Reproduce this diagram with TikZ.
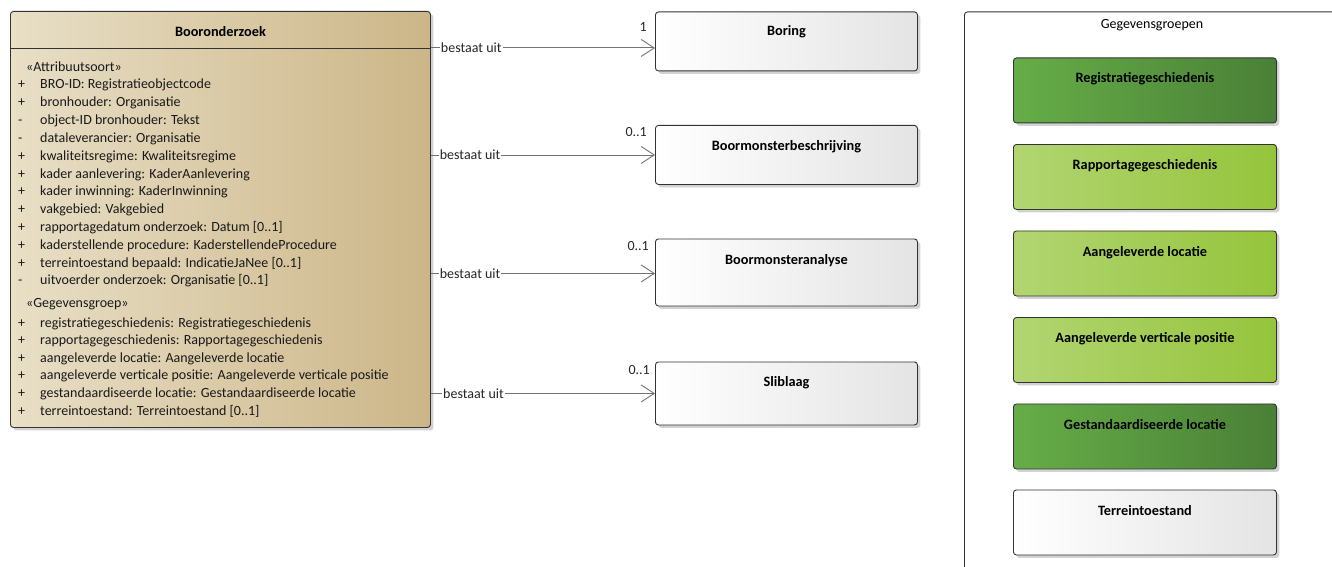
\documentclass[tikz,border=0pt]{standalone}
\usepackage{fontspec}
\setmainfont{Carlito}
\usetikzlibrary{arrows.meta,shadows}
\definecolor{beigeL}{HTML}{E8DFC6}
\definecolor{beigeR}{HTML}{CCB688}
\definecolor{dgL}{HTML}{66AD48}
\definecolor{dgR}{HTML}{4A8036}
\definecolor{lgL}{HTML}{B2D572}
\definecolor{lgR}{HTML}{95C43C}
\definecolor{wR}{HTML}{E4E4E4}
\begin{document}
\begin{tikzpicture}[x=1pt,y=-1pt,
  font=\fontsize{14}{16}\selectfont,
  shad/.style={drop shadow={shadow xshift=3pt,shadow yshift=-3pt,fill=black!35,opacity=0.5}},
  box/.style={draw=black!80,line width=0.9pt,rounded corners=3pt,anchor=north west,inner sep=0pt,shad},
  ttl/.style={font=\fontsize{14.3}{16}\selectfont\bfseries,anchor=base,inner sep=0pt},
  conn/.style={draw=black!55,line width=0.9pt,-{Straight Barb[length=13pt,width=17pt,line width=0.9pt]}},
  lbl/.style={fill=white,inner sep=1pt,text=black!85},
  mult/.style={text=black!85,anchor=base east,inner sep=0pt},
  attr/.style={anchor=base west,inner sep=0pt,text=black!90}]
\useasboundingbox (0,0) rectangle (1332,567);

% main class
\node[box,minimum width=420pt,minimum height=416pt,left color=beigeL,right color=beigeR] (main) at (10,11) {};
\node[ttl] (maint) at ([yshift=-25.5pt]main.north) {Booronderzoek};
\draw[line width=0.9pt,black!80] (main.west |- 0,48) -- (main.east |- 0,48);
\node[attr] (st1) at (26,72) {«Attribuutsoort»};
\foreach \s/\t [count=\i from 0] in {
  +/{BRO-ID: Registratieobjectcode},
  +/{bronhouder: Organisatie},
  -/{object-ID bronhouder: Tekst},
  -/{dataleverancier: Organisatie},
  +/{kwaliteitsregime: Kwaliteitsregime},
  +/{kader aanlevering: KaderAanlevering},
  +/{kader inwinning: KaderInwinning},
  +/{vakgebied: Vakgebied},
  +/{rapportagedatum onderzoek: Datum [0..1]},
  +/{kaderstellende procedure: KaderstellendeProcedure},
  +/{terreintoestand bepaald: IndicatieJaNee [0..1]},
  -/{uitvoerder onderzoek: Organisatie [0..1]}}{
  \node[attr] (as\i) at (18,89+17.8*\i) {\s};
  \node[attr] (a\i) at (40,89+17.8*\i) {\t};
}
\node[attr] (st2) at (26,307) {«Gegevensgroep»};
\foreach \s/\t [count=\i from 0] in {
  +/{registratiegeschiedenis: Registratiegeschiedenis},
  +/{rapportagegeschiedenis: Rapportagegeschiedenis},
  +/{aangeleverde locatie: Aangeleverde locatie},
  +/{aangeleverde verticale positie: Aangeleverde verticale positie},
  +/{gestandaardiseerde locatie: Gestandaardiseerde locatie},
  +/{terreintoestand: Terreintoestand [0..1]}}{
  \node[attr] (gs\i) at (18,327+17.6*\i) {\s};
  \node[attr] (g\i) at (40,327+17.6*\i) {\t};
}

% associated classes
\node[box,minimum width=262pt,minimum height=59pt,left color=white,right color=wR] (b1) at (655,11.5) {};
\node[ttl] (b1t) at ([yshift=-24.5pt]b1.north) {Boring};
\node[box,minimum width=262pt,minimum height=59pt,left color=white,right color=wR] (b2) at (655,125) {};
\node[ttl] (b2t) at ([yshift=-25.5pt]b2.north) {Boormonsterbeschrijving};
\node[box,minimum width=262pt,minimum height=67pt,left color=white,right color=wR] (b3) at (655,238.5) {};
\node[ttl] (b3t) at ([yshift=-25.5pt]b3.north) {Boormonsteranalyse};
\node[box,minimum width=262pt,minimum height=63pt,left color=white,right color=wR] (b4) at (655,361.5) {};
\node[ttl] (b4t) at ([yshift=-24.5pt]b4.north) {Sliblaag};

\coordinate (c1) at ([yshift=-6.5pt]b1.west);
\coordinate (c2) at (b2.west);
\coordinate (c3) at ([yshift=-1pt]b3.west);
\coordinate (c4) at ([yshift=0pt]b4.west);
\draw[conn] (main.east |- c1) -- node[lbl,pos=0.18] (l1) {bestaat uit} (c1);
\draw[conn] (main.east |- c2) -- node[lbl,pos=0.175] (l2) {bestaat uit} (c2);
\draw[conn] (main.east |- c3) -- node[lbl,pos=0.175] (l3) {bestaat uit} (c3);
\draw[conn] (main.east |- c4) -- node[lbl,pos=0.19] (l4) {bestaat uit} (c4);
\node[mult] (m1) at (647,32) {1};
\node[mult] (m2) at (647,136) {0..1};
\node[mult] (m3) at (649,250) {0..1};
\node[mult] (m4) at (650,374) {0..1};

% Gegevensgroepen frame
\begin{scope}
\clip (0,0) rectangle (1332,567);
\node[draw=black!80,line width=0.9pt,rounded corners=3pt,anchor=north west,inner sep=0pt,minimum width=400pt,minimum height=600pt] (frame) at (964,11.5) {};
\end{scope}
\node[anchor=base,inner sep=0pt] (framet) at (1152,29) {Gegevensgroepen};

\node[box,minimum width=263pt,minimum height=65pt,left color=dgL,right color=dgR] (g1) at (1013,57.5) {};
\node[ttl] at ([yshift=-25.5pt]g1.north) (g1t) {Registratiegeschiedenis};
\node[box,minimum width=263pt,minimum height=65pt,left color=lgL,right color=lgR] (g2) at (1013,144) {};
\node[ttl] at ([yshift=-25.5pt]g2.north) (g2t) {Rapportagegeschiedenis};
\node[box,minimum width=263pt,minimum height=65pt,left color=lgL,right color=lgR] (g3) at (1013,230.5) {};
\node[ttl] at ([yshift=-25.5pt]g3.north) (g3t) {Aangeleverde locatie};
\node[box,minimum width=263pt,minimum height=65pt,left color=lgL,right color=lgR] (g4) at (1013,317) {};
\node[ttl] at ([yshift=-25.5pt]g4.north) (g4t) {Aangeleverde verticale positie};
\node[box,minimum width=263pt,minimum height=65pt,left color=dgL,right color=dgR] (g5) at (1013,403.5) {};
\node[ttl] at ([yshift=-25.5pt]g5.north) (g5t) {Gestandaardiseerde locatie};
\node[box,minimum width=263pt,minimum height=65pt,left color=white,right color=wR] (g6) at (1013,489.5) {};
\node[ttl] at ([yshift=-25.5pt]g6.north) (g6t) {Terreintoestand};
\end{tikzpicture}
\end{document}
